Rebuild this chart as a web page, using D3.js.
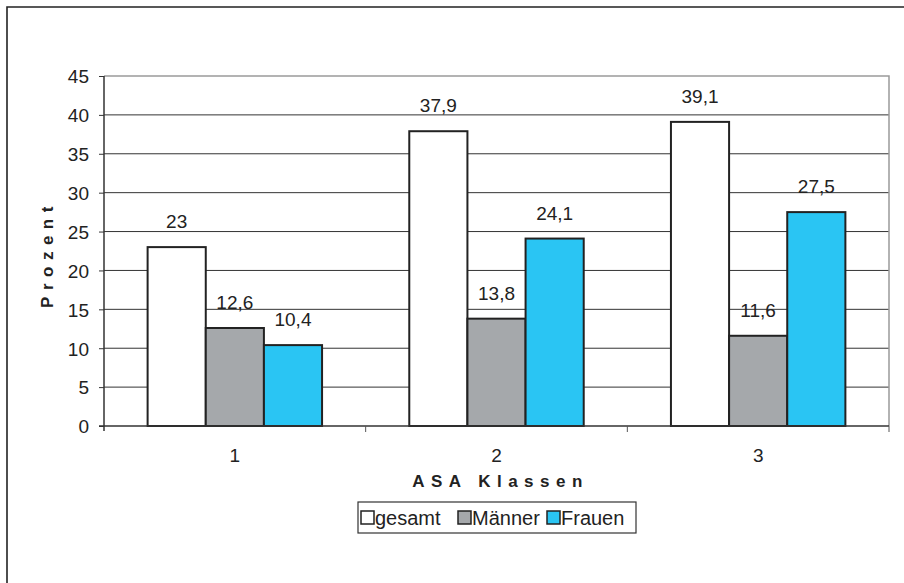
<!DOCTYPE html>
<html>
<head>
<meta charset="utf-8">
<script src="https://cdn.jsdelivr.net/npm/d3@7"></script>
<style>
  body { margin: 0; background: #fff; }
  svg { display: block; font-family: "Liberation Sans", Arial, sans-serif; }
</style>
</head>
<body>
<svg id="chart" width="904" height="583"></svg>
<script>
const categories = ["1", "2", "3"];
const seriesNames = ["gesamt", "Männer", "Frauen"];
const gesamt = [23, 37.9, 39.1];
const maenner = [12.6, 13.8, 11.6];
const frauen = [10.4, 24.1, 27.5];
const yTicks = [0, 5, 10, 15, 20, 25, 30, 35, 40, 45];
const colors = ["#ffffff", "#a5a8ab", "#2ac5f3"];

const svg = d3.select("#chart");
const margin = {left: 104, right: 904 - 889, top: 76, bottom: 583 - 426};
const width = 904 - margin.left - margin.right;
const height = 583 - margin.top - margin.bottom;

// outer frame (runs off the right/bottom edge like the scan)
svg.append("path")
    .attr("d", "M7,590 L7,7 L910,7")
    .attr("fill", "none")
    .attr("stroke", "#222")
    .attr("stroke-width", 1.6);

const g = svg.append("g").attr("transform", "translate(" + margin.left + "," + margin.top + ")");

let x0 = d3.scaleBand().domain(categories).range([0, width]).paddingInner(0).paddingOuter(0);
// gap width 150% -> 3 bars + 1.5 bar gap per category
let x1 = d3.scaleBand().domain(seriesNames).range([x0.bandwidth() * 0.75 / 4.5, x0.bandwidth() * 3.75 / 4.5]).padding(0);
let y = d3.scaleLinear().domain([0, 45]).range([height, 0]);

// gridlines
yTicks.filter(t => t > 0 && t < 45).forEach(t =>
    g.append("line")
        .attr("x1", 0).attr("x2", width)
        .attr("y1", y(t)).attr("y2", y(t))
        .attr("stroke", "#333")
        .attr("stroke-width", 1)
);

// plot area border (top/right, grey)
g.append("path")
    .attr("d", "M0," + y(45) + " L" + width + "," + y(45) + " L" + width + "," + height)
    .attr("fill", "none")
    .attr("stroke", "#9a9a9a")
    .attr("stroke-width", 1.5);

const data = categories.map((c, i) => ({cat: c, values: [gesamt[i], maenner[i], frauen[i]]}));

const groups = g.selectAll("g.grp")
    .data(data)
    .enter().append("g")
    .attr("class", "grp")
    .attr("transform", d => "translate(" + x0(d.cat) + ",0)");

groups.selectAll("rect")
    .data(d => d.values.map((v, i) => ({name: seriesNames[i], value: v, idx: i})))
    .enter().append("rect")
    .attr("x", d => x1(d.name))
    .attr("width", x1.bandwidth())
    .attr("y", d => y(d.value))
    .attr("height", d => height - y(d.value))
    .attr("fill", d => colors[d.idx])
    .attr("stroke", "#222")
    .attr("stroke-width", 2);

groups.selectAll("text.val")
    .data(d => d.values.map((v, i) => ({name: seriesNames[i], value: v})))
    .enter().append("text")
    .attr("class", "val")
    .attr("x", d => x1(d.name) + x1.bandwidth() / 2)
    .attr("y", d => y(d.value) - 19)
    .attr("text-anchor", "middle")
    .style("font-size", "19px")
    .attr("fill", "#222")
    .text(d => String(d.value).replace(".", ","));

// y axis
const yAxis = g.append("g")
    .call(d3.axisLeft(y).tickValues(yTicks).tickSize(5).tickPadding(10));
yAxis.select(".domain").attr("stroke", "#333").attr("stroke-width", 1.5).attr("d", "M0," + (height + 5) + "V0");
yAxis.selectAll(".tick line").attr("stroke", "#333");
yAxis.selectAll("text").style("font-size", "19px").attr("fill", "#222").attr("dy", "0.36em");

// x axis
const xAxisG = g.append("g").attr("transform", "translate(0," + height + ")");
xAxisG.append("line")
    .attr("x1", -5).attr("x2", width)
    .attr("stroke", "#333").attr("stroke-width", 1.5);
[1, 2, 3].forEach(k =>
    xAxisG.append("line")
        .attr("x1", x0.bandwidth() * k).attr("x2", x0.bandwidth() * k)
        .attr("y1", 0).attr("y2", 6)
        .attr("stroke", "#555")
);
categories.forEach(c =>
    xAxisG.append("text")
        .attr("x", x0(c) + x0.bandwidth() / 2)
        .attr("y", 36)
        .attr("text-anchor", "middle")
        .style("font-size", "19px")
        .attr("fill", "#222")
        .text(c)
);

// axis titles
svg.append("text")
    .attr("x", margin.left + width / 2 + 4)
    .attr("y", 487)
    .attr("text-anchor", "middle")
    .style("font-size", "17px")
    .style("font-weight", "bold")
    .style("letter-spacing", "6.5px")
    .attr("fill", "#222")
    .text("ASA Klassen");

svg.append("text")
    .attr("transform", "translate(53," + (margin.top + height / 2 + 3) + ") rotate(-90)")
    .attr("text-anchor", "middle")
    .style("font-size", "17px")
    .style("font-weight", "bold")
    .style("letter-spacing", "6.5px")
    .attr("fill", "#222")
    .text("Prozent");

// legend
const legend = svg.append("g").attr("transform", "translate(358,502)");
legend.append("rect")
    .attr("width", 278).attr("height", 31)
    .attr("fill", "#fff").attr("stroke", "#333").attr("stroke-width", 1.2);
const legendX = [3, 100, 189];
seriesNames.forEach((s, i) => {
    legend.append("rect")
        .attr("x", legendX[i]).attr("y", 9)
        .attr("width", 13).attr("height", 13)
        .attr("fill", colors[i]).attr("stroke", "#222").attr("stroke-width", 1.5);
    legend.append("text")
        .attr("x", legendX[i] + 14).attr("y", 23)
        .style("font-size", "20px")
        .attr("fill", "#222")
        .text(s);
});
</script>
</body>
</html>
